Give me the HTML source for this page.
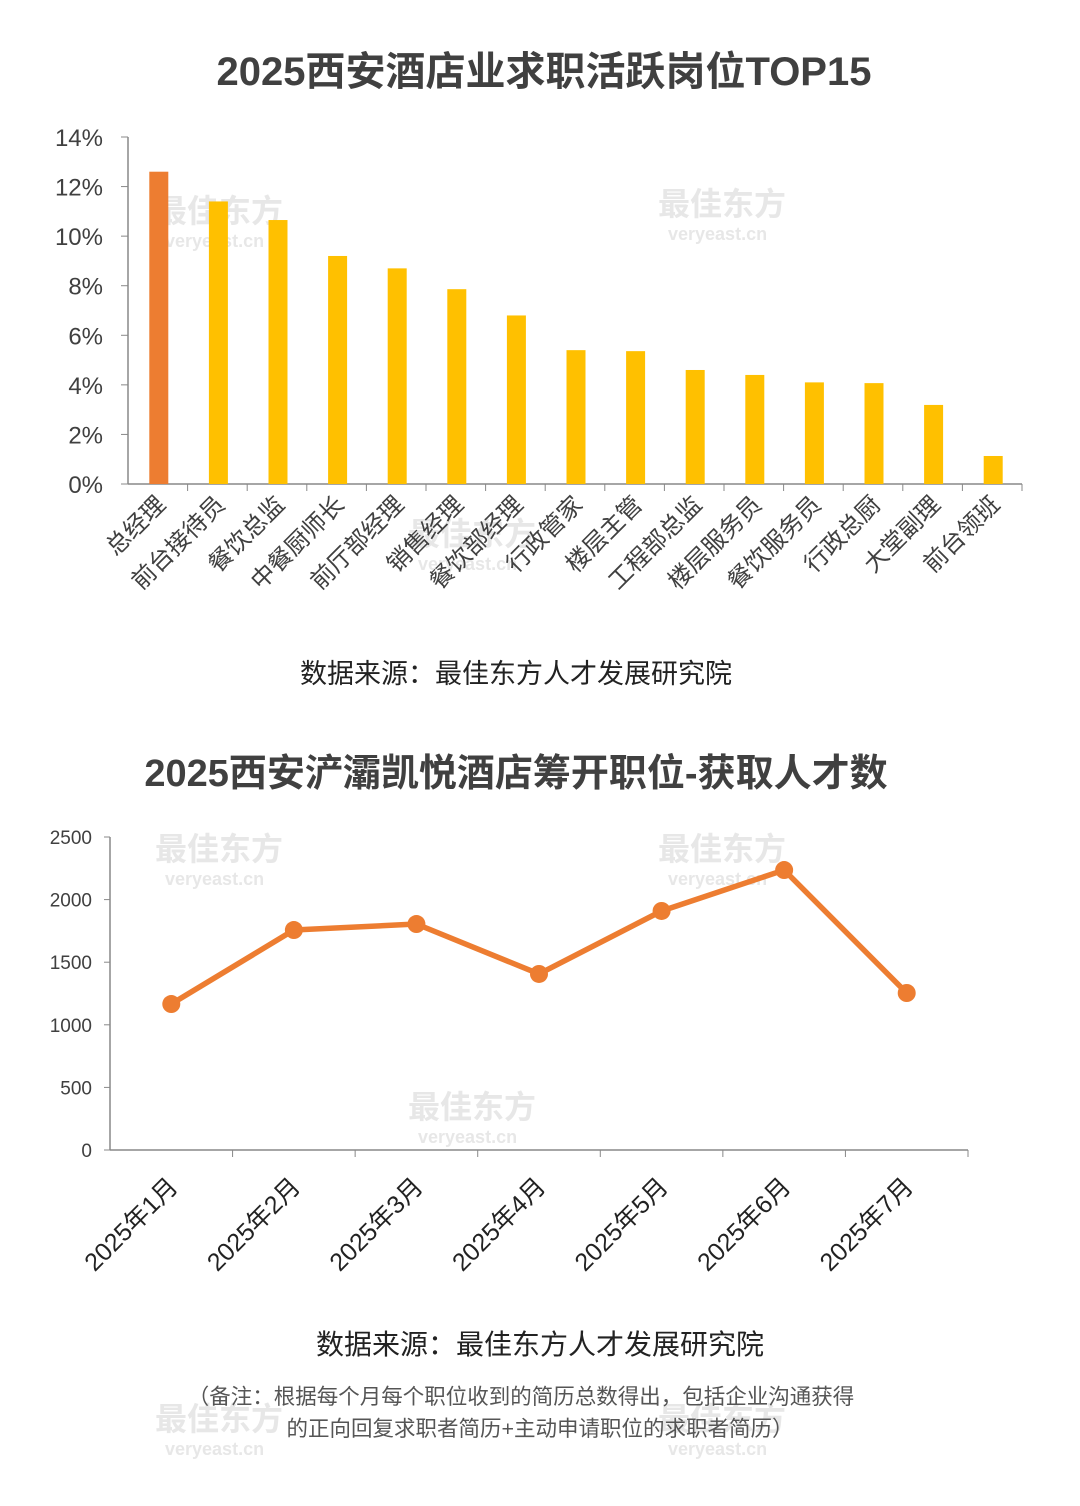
<!DOCTYPE html>
<html><head><meta charset="utf-8"><style>
body{margin:0;background:#fff;}
svg text{font-family:"Liberation Sans","Noto Sans CJK SC",sans-serif;}
</style></head><body>
<svg width="1080" height="1501" viewBox="0 0 1080 1501" xmlns="http://www.w3.org/2000/svg">
<g id="wm" fill="#bbb" opacity="0.35" font-weight="bold">
<text x="155" y="222" font-size="32">最佳东方</text><text x="165" y="247" font-size="18">veryeast.cn</text>
<text x="658" y="215" font-size="32">最佳东方</text><text x="668" y="240" font-size="18">veryeast.cn</text>
<text x="408" y="545" font-size="32">最佳东方</text><text x="418" y="570" font-size="18">veryeast.cn</text>
<text x="155" y="860" font-size="32">最佳东方</text><text x="165" y="885" font-size="18">veryeast.cn</text>
<text x="658" y="860" font-size="32">最佳东方</text><text x="668" y="885" font-size="18">veryeast.cn</text>
<text x="408" y="1118" font-size="32">最佳东方</text><text x="418" y="1143" font-size="18">veryeast.cn</text>
<text x="155" y="1430" font-size="32">最佳东方</text><text x="165" y="1455" font-size="18">veryeast.cn</text>
<text x="658" y="1430" font-size="32">最佳东方</text><text x="668" y="1455" font-size="18">veryeast.cn</text>
</g>
<text x="544" y="85" text-anchor="middle" font-size="40" font-weight="bold" fill="#404040">2025西安酒店业求职活跃岗位TOP15</text>
<g id="bar"></g>
<text x="516" y="683" text-anchor="middle" font-size="27" fill="#222">数据来源：最佳东方人才发展研究院</text>
<text x="516" y="786" text-anchor="middle" font-size="38" font-weight="bold" fill="#404040">2025西安浐灞凯悦酒店筹开职位-获取人才数</text>
<g id="line"></g>
<text x="540" y="1354" text-anchor="middle" font-size="28" fill="#222">数据来源：最佳东方人才发展研究院</text>
<text x="521" y="1404" text-anchor="middle" font-size="21.5" fill="#555">（备注：根据每个月每个职位收到的简历总数得出，包括企业沟通获得</text>
<text x="540" y="1436" text-anchor="middle" font-size="21.5" fill="#555">的正向回复求职者简历+主动申请职位的求职者简历）</text>
</svg>
<script>
const barCats=["总经理","前台接待员","餐饮总监","中餐厨师长","前厅部经理","销售经理","餐饮部经理","行政管家","楼层主管","工程部总监","楼层服务员","餐饮服务员","行政总厨","大堂副理","前台领班"];
const barVals=[12.6,11.4,10.65,9.2,8.7,7.86,6.8,5.4,5.36,4.6,4.4,4.1,4.07,3.19,1.13];
const barTicks=[0,2,4,6,8,10,12,14];
const lineCats=["2025年1月","2025年2月","2025年3月","2025年4月","2025年5月","2025年6月","2025年7月"];
const lineVals=[1166,1757,1805,1406,1909,2236,1254];
const lineTicks=[0,500,1000,1500,2000,2500];
const NS="http://www.w3.org/2000/svg";
function mk(p,t,a){const e=document.createElementNS(NS,t);for(const k in a)e.setAttribute(k,a[k]);p.appendChild(e);return e;}
const bg=document.getElementById('bar');
const bx0=128,bx1=1022,by0=484,by1=137;
const bY=v=>by0-(v/14)*(by0-by1);
const bw=(bx1-bx0)/barCats.length;
const bX=i=>bx0+bw*(i+0.5)+1;
barTicks.forEach(t=>{
 const tx=mk(bg,'text',{x:103,y:bY(t)+9,'text-anchor':'end','font-size':24,fill:'#404040'});tx.textContent=t+'%';
 
 
 const tk=mk(bg,'line',{x1:121,x2:128,y1:bY(t),y2:bY(t),stroke:'#888'});
 
 
});
const bax=mk(bg,'line',{x1:bx0,x2:bx0,y1:by1,y2:by0,stroke:'#888','stroke-width':1.5});


const bxa=mk(bg,'line',{x1:bx0,x2:bx1,y1:by0,y2:by0,stroke:'#888','stroke-width':1.5});


barCats.forEach((c,i)=>{
 const x=bX(i);
 const r=mk(bg,'rect',{x:x-9.5,y:bY(barVals[i]),width:19,height:by0-bY(barVals[i]),fill:i==0?'#ED7D31':'#FFC000'});
 
 
 const tk=mk(bg,'line',{x1:bx0+bw*(i+1),x2:bx0+bw*(i+1),y1:by0,y2:by0+7,stroke:'#888'});
 
 
 const t=mk(bg,'text',{x:x+8,y:506,'text-anchor':'end','font-size':24,fill:'#404040',transform:`rotate(-45 ${x+8} 506)`});t.textContent=c;
 
 
});
const lg=document.getElementById('line');
const lx0=110,lx1=968,ly0=1150,ly1=837;
const lY=v=>ly0-(v/2500)*(ly0-ly1);
const lw=(lx1-lx0)/lineCats.length;
const lX=i=>lx0+lw*(i+0.5);
lineTicks.forEach(t=>{
 const tx=mk(lg,'text',{x:92,y:lY(t)+7,'text-anchor':'end','font-size':19,fill:'#404040'});tx.textContent=t;
 
 
 const tk=mk(lg,'line',{x1:104,x2:110,y1:lY(t),y2:lY(t),stroke:'#888'});
 
 
});
const lya=mk(lg,'line',{x1:lx0,x2:lx0,y1:ly1,y2:ly0,stroke:'#888','stroke-width':1.5});


const lxa=mk(lg,'line',{x1:lx0,x2:lx1,y1:ly0,y2:ly0,stroke:'#888','stroke-width':1.5});


lineCats.forEach((c,i)=>{
 const tk=mk(lg,'line',{x1:lx0+lw*(i+1),x2:lx0+lw*(i+1),y1:ly0,y2:ly0+7,stroke:'#888'});
 
 
 const x=lX(i)+8;
 const t=mk(lg,'text',{x:x,y:1188,'text-anchor':'end','font-size':25,fill:'#222',transform:`rotate(-45 ${x} 1188)`});t.textContent=c;
 
 
});
const pl=mk(lg,'polyline',{points:lineVals.map((v,i)=>lX(i)+','+lY(v)).join(' '),fill:'none',stroke:'#ED7D31','stroke-width':5.5,'stroke-linejoin':'round'});


lineVals.forEach((v,i)=>{
 const c=mk(lg,'circle',{cx:lX(i),cy:lY(v),r:9,fill:'#ED7D31'});
 
 
});
</script>
</body></html>
